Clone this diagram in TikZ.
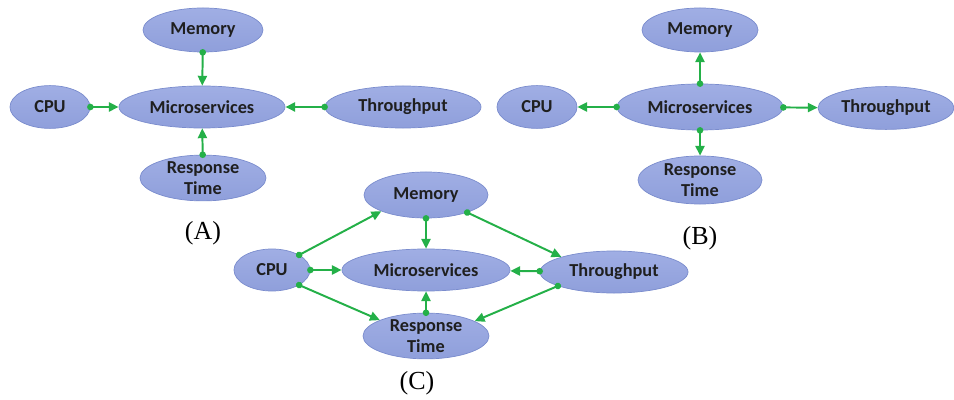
\documentclass[tikz,border=0pt]{standalone}
\usepackage{fontspec}
\setmainfont{Liberation Serif}
\newfontfamily\boxfont{Carlito}
\usetikzlibrary{shapes.geometric,arrows.meta}
\definecolor{bubble}{RGB}{143,159,219}
\definecolor{bubbletop}{RGB}{160,174,228}
\definecolor{bubbleline}{RGB}{122,140,205}
\definecolor{linkgreen}{RGB}{36,176,72}

\begin{document}
\begin{tikzpicture}[x=0.025cm,y=-0.025cm,
  metric/.style={ellipse, draw=bubbleline, line width=0.5pt, top color=bubbletop, bottom color=bubble,
    inner sep=0pt, minimum height=1.1cm, font=\boxfont\bfseries\fontsize{13}{14.5}\selectfont,
    text=black!88, align=center},
  link/.style={draw=linkgreen, line width=1.4pt, shorten <=-2.3pt,
    {Circle[length=4.6pt]}-{Triangle[length=7pt,width=6.5pt]}},
  tag/.style={font=\fontsize{18.5}{21}\selectfont}]

\useasboundingbox (0,0) rectangle (954,400);

% (A)
\node[metric, minimum width=3.0cm] (memA) at (203,30) {Memory};
\node[metric, minimum width=2.0cm, minimum height=1.07cm] (cpuA) at (50,107) {CPU};
\node[metric, minimum width=4.15cm, minimum height=1.05cm] (msA) at (202,107) {Microservices};
\node[metric, minimum width=3.9cm, minimum height=1.05cm] (thrA) at (403,107) {Throughput};
\node[metric, minimum width=3.15cm] (rtA) at (203,178) {Response\\Time};
\node[tag] (labA) at (203,233) {(A)};

\draw[link] (memA) -- (msA);
\draw[link] (cpuA) -- (msA);
\draw[link] (thrA) -- (msA);
\draw[link] (rtA) -- (msA);

% (B)
\node[metric, minimum width=2.9cm] (memB) at (700,30) {Memory};
\node[metric, minimum width=2.0cm, minimum height=1.07cm] (cpuB) at (537,107) {CPU};
\node[metric, minimum width=4.15cm, minimum height=1.15cm] (msB) at (700,107) {Microservices};
\node[metric, minimum width=3.4cm, minimum height=1.07cm] (thrB) at (886,108) {Throughput};
\node[metric, minimum width=3.1cm, minimum height=1.2cm] (rtB) at (700,180) {Response\\Time};
\node[tag] (labB) at (700,238) {(B)};

\draw[link] (msB) -- (memB);
\draw[link] (msB) -- (cpuB);
\draw[link] (msB) -- (thrB);
\draw[link] (msB) -- (rtB);

% (C)
\node[metric, minimum width=3.1cm, minimum height=1.15cm] (memC) at (426,195) {Memory};
\node[metric, minimum width=1.9cm, minimum height=1.05cm] (cpuC) at (272,270) {CPU};
\node[metric, minimum width=4.2cm, minimum height=1.05cm] (msC) at (426,270) {Microservices};
\node[metric, minimum width=3.7cm, minimum height=1.05cm] (thrC) at (614,272) {Throughput};
\node[metric, minimum width=3.15cm, minimum height=1.12cm] (rtC) at (426,336) {Response\\Time};
\node[tag] (labC) at (417,383) {(C)};

\draw[link] (cpuC.29) -- (memC.200);
\draw[link] (memC) -- (msC);
\draw[link] (memC.-23) -- (thrC.164);
\draw[link] (cpuC) -- (msC);
\draw[link] (thrC) -- (msC);
\draw[link] (cpuC.-29) -- (rtC.161);
\draw[link] (rtC) -- (msC);
\draw[link] (thrC.-166) -- (rtC.17);
\end{tikzpicture}
\end{document}
